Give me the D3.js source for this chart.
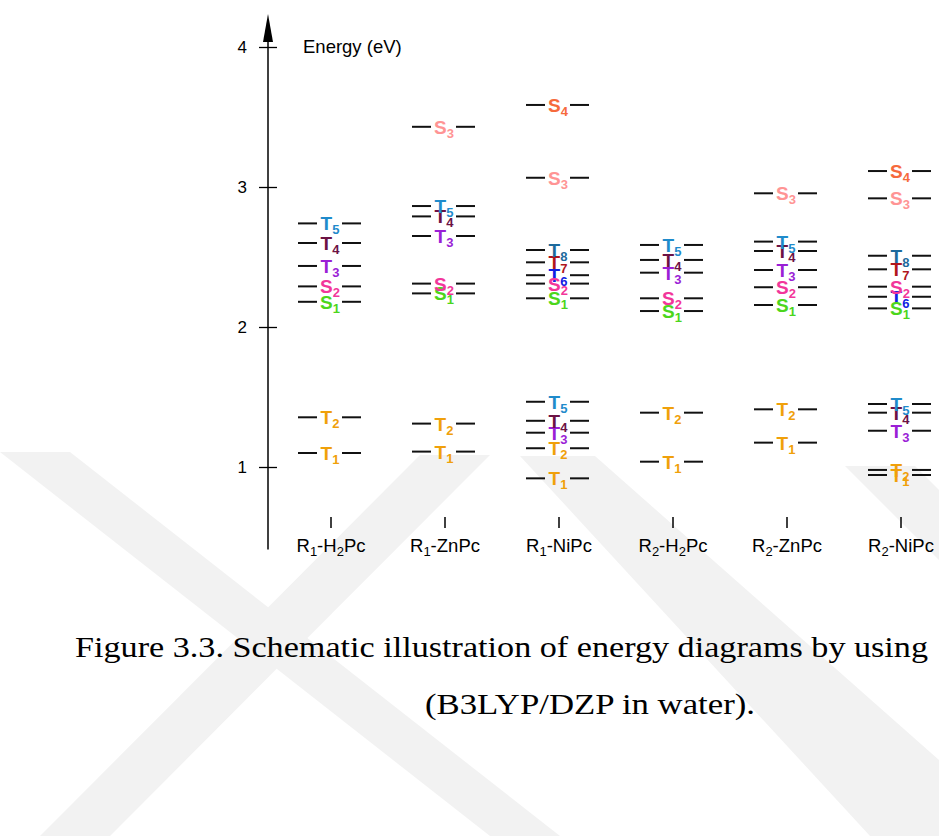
<!DOCTYPE html>
<html>
<head>
<meta charset="utf-8">
<script src="https://cdn.jsdelivr.net/npm/d3@7"></script>
<style>
  html, body { margin: 0; padding: 0; background: #fff; }
  svg { display: block; }
</style>
</head>
<body>
<svg id="chart" width="939" height="836"></svg>
<script>
// Excited-state levels (eV) for each phthalocyanine; null = level not shown
const molecules = ["R1-H2Pc", "R1-ZnPc", "R1-NiPc", "R2-H2Pc", "R2-ZnPc", "R2-NiPc"];
const states    = ["T1", "T2", "T3", "T4", "T5", "T6", "T7", "T8", "S1", "S2", "S3", "S4"];

const R1_H2Pc = [1.10, 1.355, 2.436, 2.60, 2.74, null, null, null, 2.18, 2.29, null, null];
const R1_ZnPc = [1.11, 1.31, 2.65, 2.79, 2.864, null, null, null, 2.24, 2.31, 3.43, null];
const R1_NiPc = [0.919, 1.134, 1.245, 1.33, 1.466, 2.37, 2.462, 2.55, 2.205, 2.31, 3.066, 3.586];
const R2_H2Pc = [1.038, 1.388, 2.388, 2.479, 2.586, null, null, null, 2.114, 2.205, null, null];
const R2_ZnPc = [1.174, 1.412, 2.407, 2.543, 2.61, null, null, null, 2.157, 2.284, 2.955, null];
const R2_NiPc = [0.943, 0.979, 1.259, 1.388, 1.45, 2.216, 2.412, 2.509, 2.133, 2.288, 2.919, 3.114];

const energies = [R1_H2Pc, R1_ZnPc, R1_NiPc, R2_H2Pc, R2_ZnPc, R2_NiPc];

const stateColors = ["#f0a00a", "#f0a00a", "#9a1fd6", "#6c1244", "#1f8bcb", "#1020e2",
                     "#b0161c", "#1d6a9c", "#4cd61c", "#f2369a", "#ff9494", "#f66a3c"];

const yTicks = [1, 2, 3, 4];
const axisTitle = "Energy (eV)";
const captionLines = ["Figure 3.3. Schematic illustration of energy diagrams by using",
                      "(B3LYP/DZP in water)."];

const svg = d3.select("#chart");
const sans = "Liberation Sans, Arial, sans-serif";

// faint background watermark bands
const wm = svg.append("g").attr("fill", "#f2f2f2");
const bands = [
  [[0, 452], [70, 452], [560, 836], [490, 836], [0, 452]],
  [[420, 455], [490, 455], [110, 836], [40, 836]],
  [[520, 456], [595, 456], [939, 760], [939, 836], [870, 836]],
  [[845, 466], [915, 466], [939, 490], [939, 560]]
];
wm.selectAll("path").data(bands).join("path")
  .attr("d", d => d3.line()(d) + "Z");

// scales
const y = d3.scaleLinear().domain([1, 4]).range([467, 47]);
const x = d3.scalePoint().domain(molecules).range([331, 901]);
const axisX = 268;

// y axis with ticks crossing the axis line
const yAxis = d3.axisLeft(y).tickValues(yTicks).tickSize(9).tickPadding(12)
  .tickFormat(d3.format("d"));
const ag = svg.append("g").attr("transform", `translate(${axisX},0)`).call(yAxis);
ag.select(".domain").remove();
ag.selectAll(".tick line").attr("x1", -9).attr("x2", 9).attr("stroke", "#000").attr("stroke-width", 1.3);
ag.selectAll(".tick text").attr("font-family", sans)
  .attr("font-size", 17).attr("fill", "#000");

// axis line with arrowhead
const yBottom = y(0.41);
svg.append("line").attr("x1", axisX).attr("x2", axisX)
  .attr("y1", yBottom).attr("y2", 30).attr("stroke", "#000").attr("stroke-width", 1.5);
svg.append("path").attr("d", `M${axisX},14 L${axisX - 5},42 L${axisX + 5},42 Z`).attr("fill", "#000");

svg.append("text").attr("x", 303).attr("y", y(4) + 6)
  .attr("font-family", sans).attr("font-size", 18.5)
  .text(axisTitle);

// helper: text with digits rendered as subscripts
function subText(sel, str, subSize, drop) {
  let prevSub = false;
  for (const ch of str) {
    const isSub = /[0-9]/.test(ch);
    const t = sel.append("tspan").text(ch);
    if (isSub) t.attr("font-size", subSize);
    if (isSub && !prevSub) t.attr("dy", drop);
    else if (!isSub && prevSub) t.attr("dy", -drop);
    prevSub = isSub;
  }
}

// molecule labels and short marker ticks
const cols = svg.append("g");
molecules.forEach(m => {
  cols.append("line").attr("x1", x(m)).attr("x2", x(m)).attr("y1", 517).attr("y2", 528)
    .attr("stroke", "#000").attr("stroke-width", 1.5);
  const t = cols.append("text").attr("x", x(m)).attr("y", 552).attr("text-anchor", "middle")
    .attr("font-family", sans).attr("font-size", 18.5);
  subText(t, m, 13, 4);
});

// energy levels
const levels = [];
molecules.forEach((m, i) => {
  energies[i].forEach((e, k) => {
    if (e !== null) levels.push({ mol: m, state: states[k], e, color: stateColors[k] });
  });
});

const lg = svg.append("g");
levels.forEach(d => {
  const cx = x(d.mol) - 1, cy = y(d.e);
  lg.append("line").attr("x1", cx - 32).attr("x2", cx - 13).attr("y1", cy).attr("y2", cy)
    .attr("stroke", "#111").attr("stroke-width", 2);
  lg.append("line").attr("x1", cx + 12).attr("x2", cx + 31).attr("y1", cy).attr("y2", cy)
    .attr("stroke", "#111").attr("stroke-width", 2);
});
levels.forEach(d => {
  const cx = x(d.mol) - 1, cy = y(d.e);
  const t = lg.append("text").attr("x", cx).attr("y", cy + 7).attr("text-anchor", "middle")
    .attr("font-family", sans).attr("font-weight", "bold")
    .attr("font-size", 19).attr("fill", d.color);
  t.append("tspan").text(d.state[0]);
  t.append("tspan").attr("dy", 4).attr("font-size", 13).text(d.state.slice(1));
});

// caption
const serif = "Liberation Serif, Times New Roman, serif";
svg.append("text").attr("x", 75).attr("y", 657)
  .attr("font-family", serif).attr("font-size", 30)
  .attr("textLength", 853).attr("lengthAdjust", "spacingAndGlyphs").text(captionLines[0]);
svg.append("text").attr("x", 425).attr("y", 714)
  .attr("font-family", serif).attr("font-size", 30)
  .attr("textLength", 330).attr("lengthAdjust", "spacingAndGlyphs").text(captionLines[1]);
</script>
</body>
</html>
